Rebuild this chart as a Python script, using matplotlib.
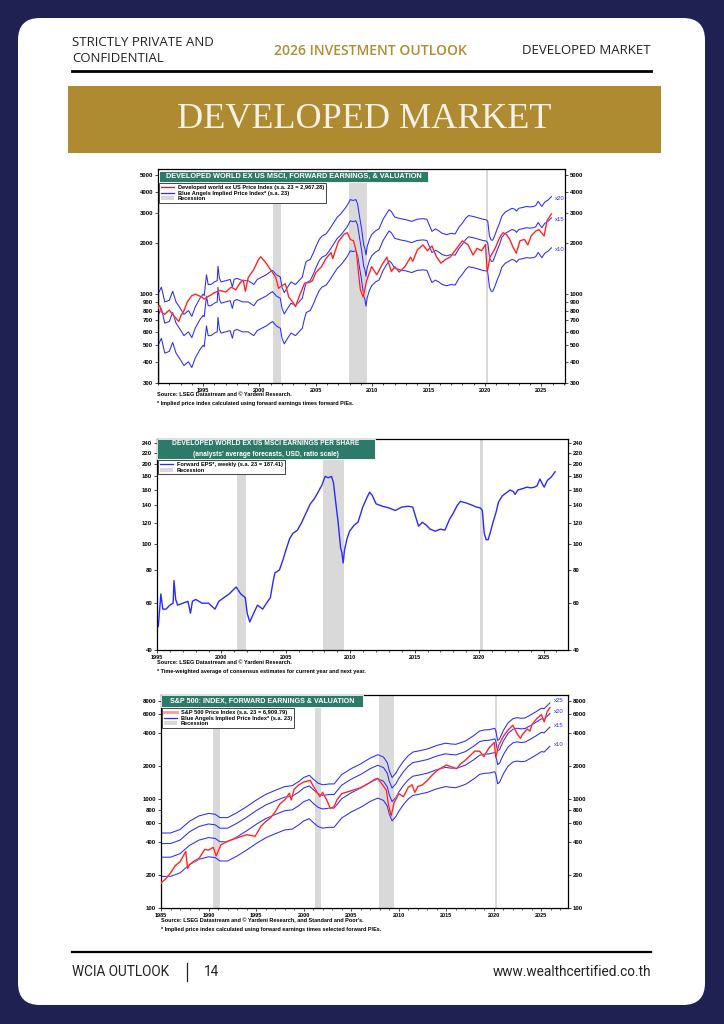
import matplotlib
matplotlib.use('Agg')
import matplotlib.pyplot as plt
from matplotlib.patches import FancyBboxPatch, Rectangle, Patch
from matplotlib.lines import Line2D
from matplotlib.ticker import NullLocator

# ---------------- DATA ----------------
recessions = [(1990.5, 1991.2), (2001.2, 2001.87), (2007.92, 2009.5), (2020.1, 2020.3)]

dm_eps_years = [1991.0, 1991.3, 1991.6, 1992.0, 1992.3, 1992.6, 1993.0, 1993.3, 1993.7, 1994.0,
                1994.3, 1994.7, 1995.0, 1995.1, 1995.3, 1995.45, 1995.7, 1996.0, 1996.25, 1996.32,
                1996.45, 1996.6, 1997.0, 1997.4, 1997.6, 1997.75, 1998.0, 1998.5, 1999.0, 1999.5,
                1999.8, 2000.2, 2000.6, 2001.0, 2001.15, 2001.5, 2001.85, 2002.0, 2002.2, 2002.5,
                2002.8, 2003.2, 2003.5, 2003.8, 2004.0, 2004.15, 2004.5, 2004.8, 2005.0, 2005.3,
                2005.55, 2005.9, 2006.2, 2006.5, 2006.9, 2007.2, 2007.5, 2007.8, 2008.05, 2008.3,
                2008.55, 2008.7, 2008.9, 2009.05, 2009.25, 2009.35, 2009.45, 2009.55, 2009.75, 2009.95,
                2010.3, 2010.6, 2010.97, 2011.3, 2011.5, 2011.7, 2012.0, 2012.5, 2013.0, 2013.5,
                2014.0, 2014.5, 2014.85, 2015.05, 2015.3, 2015.6, 2015.9, 2016.2, 2016.6, 2017.0,
                2017.35, 2017.7, 2018.0, 2018.3, 2018.55, 2019.0, 2019.5, 2019.8, 2020.1, 2020.25,
                2020.4, 2020.55, 2020.7, 2020.9, 2021.1, 2021.3, 2021.5, 2021.8, 2022.1, 2022.4,
                2022.65, 2022.8, 2023.0, 2023.4, 2023.7, 2024.0, 2024.3, 2024.5, 2024.72, 2024.9,
                2025.05, 2025.3, 2025.6, 2025.9]
dm_eps_values = [50, 55, 45, 46, 52, 45, 41, 38, 40, 37,
                 42, 47, 50, 49, 65, 57, 57, 59, 60, 73,
                 62, 59, 60, 61, 55, 61, 62, 60, 60, 57,
                 61, 63, 65, 68, 69, 65, 63, 55, 51, 55,
                 59, 57, 60, 63, 72, 78, 80, 88, 95, 105,
                 110, 113, 120, 129, 142, 148, 157, 167, 180, 178,
                 180, 170, 140, 122, 97, 93, 85, 95, 105, 112,
                 118, 121, 138, 150, 157, 153, 142, 139, 137, 134,
                 138, 139, 138, 128, 117, 121, 118, 114, 112, 114,
                 113, 124, 131, 140, 145, 143, 140, 138, 137, 134,
                 110, 104, 104, 112, 122, 131, 144, 152, 156, 160,
                 158, 154, 160, 162, 164, 163, 164, 166, 176, 169,
                 164, 174, 179, 187.4]

dm_price_years = [1991.0, 1991.15, 1991.3, 1991.6, 1991.85, 1992.0, 1992.3, 1992.6, 1992.85, 1993.0,
                  1993.3, 1993.6, 1994.0, 1994.3, 1994.6, 1994.9, 1995.1, 1995.4, 1995.7, 1996.0,
                  1996.5, 1997.0, 1997.5, 1997.9, 1998.3, 1998.55, 1998.75, 1999.0, 1999.5, 1999.9,
                  2000.1, 2000.5, 2000.9, 2001.2, 2001.45, 2001.7, 2001.95, 2002.3, 2002.6, 2003.0,
                  2003.2, 2003.5, 2004.0, 2004.4, 2004.7, 2005.0, 2005.5, 2005.9, 2006.35, 2006.5,
                  2007.0, 2007.5, 2007.8, 2008.05, 2008.35, 2008.6, 2008.8, 2008.95, 2009.2, 2009.5,
                  2009.95, 2010.4, 2010.9, 2011.3, 2011.7, 2012.0, 2012.4, 2012.9, 2013.4, 2013.6,
                  2014.0, 2014.5, 2014.9, 2015.3, 2015.7, 2016.1, 2016.5, 2016.9, 2017.5, 2018.0,
                  2018.5, 2018.95, 2019.3, 2019.7, 2020.05, 2020.2, 2020.45, 2020.9, 2021.3, 2021.6,
                  2021.9, 2022.2, 2022.5, 2022.78, 2023.1, 2023.5, 2023.8, 2024.1, 2024.5, 2024.8,
                  2025.0, 2025.25, 2025.5, 2025.9]
dm_price_values = [830, 860, 785, 760, 790, 805, 760, 720, 690, 740,
                   800, 900, 980, 1000, 980, 960, 935, 965, 990, 1020,
                   1050, 1030, 1100, 1060, 1170, 1210, 1040, 1250, 1400, 1590,
                   1660, 1550, 1420, 1330, 1250, 1080, 1120, 1150, 960, 890,
                   845, 960, 1160, 1170, 1200, 1340, 1450, 1620, 1760, 1620,
                   2040, 2250, 2300, 2100, 2060, 1760, 1300, 1060, 960, 1200,
                   1450, 1300, 1500, 1650, 1360, 1450, 1350, 1450, 1650, 1560,
                   1820, 1950, 1800, 1920, 1660, 1520, 1600, 1650, 1860, 2060,
                   1950, 1700, 1860, 1800, 1960, 1350, 1650, 1860, 2150, 2300,
                   2250, 2100, 1880, 1740, 2060, 2100, 1950, 2200, 2350, 2400,
                   2300, 2200, 2700, 2967]
dm_multiples = [10, 15, 20]

spx_eps_years = [1985.0, 1986.0, 1987.0, 1988.0, 1989.0, 1990.0, 1990.7, 1991.2, 1992.0, 1993.0,
                 1994.0, 1995.0, 1996.0, 1997.0, 1998.0, 1998.8, 1999.5, 2000.0, 2000.6, 2001.0,
                 2001.5, 2002.0, 2002.7, 2003.2, 2004.0, 2005.0, 2006.0, 2007.0, 2007.8, 2008.4,
                 2008.8, 2009.0, 2009.3, 2009.7, 2010.0, 2010.5, 2011.0, 2011.5, 2012.0, 2013.0,
                 2014.0, 2014.9, 2015.5, 2016.0, 2017.0, 2017.9, 2018.5, 2019.0, 2019.5, 2020.1,
                 2020.2, 2020.4, 2020.6, 2021.0, 2021.5, 2022.0, 2022.4, 2022.9, 2023.3, 2024.0,
                 2024.5, 2025.0, 2025.3, 2025.9]
spx_eps_values = [19.5, 19.5, 21, 25, 28, 29.5, 29, 27, 27, 30,
                  34, 39, 44, 48, 52, 53, 58, 63, 66, 61,
                  56, 54, 55, 55, 67, 76, 84, 95, 102, 97,
                  86, 73, 63, 69, 77, 89, 100, 108, 110, 115,
                  124, 130, 128, 127, 136, 153, 168, 172, 173, 178,
                  170, 138, 142, 170, 200, 218, 223, 220, 222, 240,
                  255, 272, 270, 305]

spx_price_years = [1985.0, 1985.5, 1986.0, 1986.5, 1987.0, 1987.6, 1987.8, 1988.0, 1988.5, 1989.0,
                   1989.6, 1990.0, 1990.5, 1990.8, 1991.0, 1991.3, 1992.0, 1993.0, 1994.0, 1994.9,
                   1995.5, 1996.0, 1996.5, 1997.0, 1997.5, 1998.0, 1998.5, 1998.7, 1999.0, 1999.5,
                   2000.0, 2000.7, 2001.0, 2001.3, 2001.7, 2002.0, 2002.5, 2002.8, 2003.2, 2003.5,
                   2004.0, 2005.0, 2006.0, 2007.0, 2007.5, 2007.8, 2008.3, 2008.7, 2008.9, 2009.2,
                   2009.5, 2010.0, 2010.5, 2011.0, 2011.4, 2011.7, 2012.0, 2012.5, 2013.0, 2013.5,
                   2014.0, 2015.0, 2015.7, 2016.1, 2016.5, 2017.0, 2018.0, 2018.5, 2018.95, 2019.5,
                   2020.05, 2020.2, 2020.5, 2021.0, 2021.5, 2022.0, 2022.5, 2022.8, 2023.0, 2023.5,
                   2023.8, 2024.0, 2024.5, 2025.0, 2025.3, 2025.6, 2025.9]
spx_price_values = [170, 185, 210, 245, 265, 330, 230, 250, 270, 285,
                    345, 340, 360, 300, 330, 380, 410, 440, 470, 455,
                    560, 620, 670, 760, 900, 980, 1130, 980, 1230, 1350,
                    1430, 1480, 1320, 1200, 1050, 1150, 950, 820, 850, 980,
                    1120, 1190, 1270, 1420, 1520, 1540, 1350, 1200, 900, 700,
                    920, 1120, 1050, 1280, 1350, 1150, 1300, 1350, 1480, 1650,
                    1820, 2050, 1950, 1900, 2100, 2270, 2750, 2750, 2450, 2950,
                    3300, 2400, 3100, 3750, 4300, 4750, 3900, 3600, 3900, 4400,
                    4200, 4800, 5450, 5950, 5100, 6300, 6910]
spx_multiples = [10, 15, 20, 25]

chart1_yticks = [300, 400, 500, 600, 700, 800, 900, 1000, 2000, 3000, 4000, 5000]
chart2_yticks = [40, 60, 80, 100, 120, 140, 160, 180, 200, 220, 240]
chart3_yticks = [100, 200, 400, 600, 800, 1000, 2000, 4000, 6000, 8000]

# ---------------- STYLE ----------------
plt.rcParams['font.family'] = ['Liberation Sans', 'DejaVu Sans']
W, H = 724, 1024
TEAL = '#2e7a69'
BLUE = '#2a2aff'
RED = '#ff1010'
PINK = '#ff9a9a'
GRAY = '#d9d9d9'
GOLD = '#ae8b30'

fig = plt.figure(figsize=(7.24, 10.24), dpi=100)
fig.patch.set_facecolor('#1f2152')
T = fig.dpi_scale_trans


def rect(x0, y0, x1, y1, **kw):
    r = Rectangle((x0 / 100, (H - y1) / 100), (x1 - x0) / 100, (y1 - y0) / 100, transform=T, **kw)
    fig.add_artist(r)
    return r


def ftext(x, y, s, **kw):
    return fig.text(x / W, 1 - y / H, s, **kw)


def hline(x0, x1, y, lw, color='black'):
    fig.add_artist(Line2D([x0 / W, x1 / W], [1 - y / H, 1 - y / H], lw=lw, color=color,
                          transform=fig.transFigure))


# page
page = FancyBboxPatch((18 / 100, (H - 1005) / 100), (705 - 18) / 100, (1005 - 18) / 100,
                      boxstyle='round,pad=0,rounding_size=0.22', transform=T,
                      fc='white', ec='none', zorder=0)
fig.add_artist(page)

# header
hf = dict(family=['Open Sans', 'DejaVu Sans'], fontsize=9.5, color='#222222', va='center')
ftext(72, 43, 'STRICTLY PRIVATE AND', ha='left', **hf)
ftext(72, 58, 'CONFIDENTIAL', ha='left', **hf)
ftext(370, 51, '2026 INVESTMENT OUTLOOK', ha='center', va='center', family=['Open Sans', 'DejaVu Sans'],
      fontsize=10.0, color='#b08d30', weight='semibold')
ftext(651, 50, 'DEVELOPED MARKET', ha='right', **hf)
hline(72, 651, 71, 2.0)

# banner
rect(68, 86, 661, 153, fc=GOLD, ec='none', zorder=1)
ftext(364.5, 120, 'DEVELOPED MARKET', ha='center', va='center', family=['Liberation Serif', 'DejaVu Serif'],
      fontsize=26, color='#f6f1e7', weight='normal', zorder=3)

# footer
hline(72, 651, 952, 1.6)
ff = dict(family=['Roboto', 'DejaVu Sans'], fontsize=9.8, color='#222222', va='center', weight='normal')
ftext(72, 972, 'WCIA OUTLOOK', ha='left', **ff)
fig.add_artist(Line2D([187 / W, 187 / W], [1 - 963 / H, 1 - 981 / H], lw=0.9, color='#222222',
                      transform=fig.transFigure))
ftext(204, 972, '14', ha='left', **ff)
ftext(651, 972, 'www.wealthcertified.co.th', ha='right', **ff)


def make_axes(l, t, r, b):
    return fig.add_axes([l / W, 1 - b / H, (r - l) / W, (b - t) / H])


def style_axes(ax, xlim, ylim, yticks, xmajor, xminor):
    ax.set_yscale('log')
    ax.set_xlim(*xlim)
    ax.set_ylim(*ylim)
    ax.set_yticks(yticks)
    ax.set_yticklabels([str(v) for v in yticks])
    ax.yaxis.set_minor_locator(NullLocator())
    ax.set_xticks(xmajor)
    ax.set_xticklabels([str(v) for v in xmajor])
    ax.set_xticks(xminor, minor=True)
    ax.tick_params(axis='both', which='both', width=0.5, length=2.0,
                   direction='out', pad=1.5, colors='black')
    ax.tick_params(axis='x', labelsize=4.0)
    ax.tick_params(axis='y', labelsize=4.3)
    ax.tick_params(axis='x', which='minor', length=1.5)
    ax.tick_params(axis='y', right=True, labelright=True)
    for lbl in ax.get_xticklabels() + ax.get_yticklabels():
        lbl.set_fontweight('bold')
    for tk in ax.yaxis.get_major_ticks():
        tk.label2.set_fontweight('bold')
    for sp in ax.spines.values():
        sp.set_linewidth(0.9)
    for a, b in recessions:
        ax.axvspan(a, b, color=GRAY, lw=0, zorder=0)


def title_box(x0, y0, x1, y1, lines, size=5.0):
    rect(x0, y0, x1, y1, fc=TEAL, ec='white', lw=0.6, zorder=4)
    n = len(lines)
    for i, s in enumerate(lines):
        yc = y0 + (y1 - y0) * (i + 0.5) / n
        ftext((x0 + x1) / 2, yc + 0.3, s, ha='center', va='center', color='white', fontsize=size,
              weight='bold', zorder=5)


def legend(ax, handles, labels, anchor):
    leg = ax.legend(handles, labels, loc='upper left', bbox_to_anchor=anchor, borderaxespad=0,
                    prop={'size': 4.1, 'weight': 'bold'}, frameon=True, fancybox=False,
                    edgecolor='#444444', framealpha=1, handlelength=2.4, handletextpad=0.6,
                    labelspacing=0.15, borderpad=0.3)
    leg.get_frame().set_linewidth(0.7)
    return leg


def notes(x, y, lines):
    for i, s in enumerate(lines):
        ftext(x, y + 9 * i, s, ha='left', va='center', fontsize=4.0, weight='bold', color='black')


# ---------------- CHART 1 ----------------
ax1 = make_axes(158, 169, 565, 383)
style_axes(ax1, (1991.0, 2027.1), (300, 5450), chart1_yticks,
           list(range(1995, 2026, 5)), list(range(1991, 2028)))
for m in dm_multiples:
    ax1.plot(dm_eps_years, [v * m for v in dm_eps_values], color=BLUE, lw=0.75, zorder=2)
    ax1.text(2026.25, dm_eps_values[-1] * m * 0.98, 'x%d' % m, color=BLUE, fontsize=4.3,
             ha='left', va='center')
ax1.plot(dm_price_years, dm_price_values, color=PINK, lw=1.3, alpha=0.8, zorder=3)
ax1.plot(dm_price_years, dm_price_values, color=RED, lw=0.7, zorder=3)
legend(ax1, [Line2D([], [], color=RED, lw=0.9), Line2D([], [], color=BLUE, lw=0.9),
             Patch(facecolor=GRAY, edgecolor='none')],
       ['Developed world ex US Price Index (s.a. 23 = 2,967.28)',
        'Blue Angels Implied Price Index* (s.a. 23)', 'Recession'], (0.0025, 0.9346))
title_box(159, 171, 428, 182, ['DEVELOPED WORLD EX US MSCI, FORWARD EARNINGS, & VALUATION'], size=5.3)
notes(157, 395, ['Source: LSEG Datastream and \u00a9 Yardeni Research.',
                 '* Implied price index calculated using forward earnings times forward P/Es.'])

# ---------------- CHART 2 ----------------
ax2 = make_axes(157, 438.5, 568, 650)
style_axes(ax2, (1995.0, 2026.9), (40, 250), chart2_yticks,
           list(range(1995, 2026, 5)), list(range(1995, 2027)))
ax2.plot(dm_eps_years, dm_eps_values, color=BLUE, lw=1.0, zorder=2)
legend(ax2, [Line2D([], [], color=BLUE, lw=0.9), Patch(facecolor=GRAY, edgecolor='none')],
       ['Forward EPS*, weekly (s.a. 23 = 187.41)', 'Recession'], (0.0025, 0.898))
title_box(157, 438.5, 375, 459, ['DEVELOPED WORLD EX US MSCI EARNINGS PER SHARE',
                                  "(analysts' average forecasts, USD, ratio scale)"], size=4.8)
notes(157, 663, ['Source: LSEG Datastream and \u00a9 Yardeni Research.',
                 '* Time-weighted average of consensus estimates for current year and next year.'])

# ---------------- CHART 3 ----------------
ax3 = make_axes(161, 695, 568, 908)
style_axes(ax3, (1985.0, 2027.8), (100, 9000), chart3_yticks,
           list(range(1985, 2026, 5)), list(range(1985, 2028)))
for m in spx_multiples:
    ax3.plot(spx_eps_years, [v * m for v in spx_eps_values], color=BLUE, lw=0.75, zorder=2)
    ax3.text(2026.3, spx_eps_values[-1] * m * 1.04, 'x%d' % m, color=BLUE, fontsize=4.3,
             ha='left', va='center')
ax3.plot(spx_price_years, spx_price_values, color=PINK, lw=1.3, alpha=0.8, zorder=3)
ax3.plot(spx_price_years, spx_price_values, color=RED, lw=0.7, zorder=3)
legend(ax3, [Line2D([], [], color=PINK, lw=2.0), Line2D([], [], color=BLUE, lw=0.9),
             Patch(facecolor=GRAY, edgecolor='none')],
       ['S&P 500 Price Index (s.a. 23 = 6,909.79)',
        'Blue Angels Implied Price Index* (s.a. 23)', 'Recession'], (0.0025, 0.939))
title_box(161, 695, 363, 707, ['S&P 500: INDEX, FORWARD EARNINGS & VALUATION'], size=5.1)
notes(161, 920, ["Source: LSEG Datastream and \u00a9 Yardeni Research, and Standard and Poor's.",
                 '* Implied price index calculated using forward earnings times selected forward P/Es.'])

fig.savefig('out.png', dpi=100, facecolor=fig.get_facecolor())
